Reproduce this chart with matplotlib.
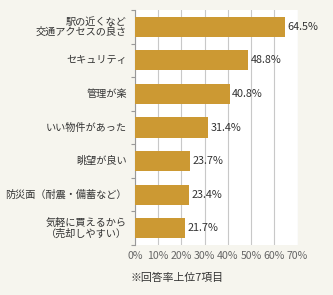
import matplotlib.pyplot as plt
import numpy as np

plt.rcParams['font.family'] = ['Noto Sans CJK JP', 'DejaVu Sans']

# データ
categories = [
    '駅の近くなど\n交通アクセスの良さ',
    'セキュリティ',
    '管理が楽',
    'いい物件があった',
    '眺望が良い',
    '防災面（耐震・備蓄など）',
    '気軽に買えるから\n（売却しやすい）',
]
values = [64.5, 48.8, 40.8, 31.4, 23.7, 23.4, 21.7]
x_ticks = [0, 10, 20, 30, 40, 50, 60, 70]
note = '※回答率上位7項目'

bg = '#f6f5ee'
bar_color = '#cc9933'
text_color = '#333333'
grid_color = '#c8c8c8'

fig = plt.figure(figsize=(3.33, 2.95), dpi=100, facecolor=bg)
# 軸の位置（ピクセルから換算）
ax = fig.add_axes([135 / 333, 1 - 245 / 295, (297.5 - 135) / 333, (245 - 10) / 295])
ax.set_facecolor('white')

y = np.arange(len(categories))
ax.barh(y, values, height=0.6, color=bar_color, zorder=3)

for yi, v in zip(y, values):
    ax.text(v + 1.1, yi, f'{v}%', va='center', ha='left', fontsize=7.8,
            color=text_color, zorder=4)

ax.set_xlim(0, 70)
ax.set_ylim(len(categories) - 0.5, -0.5)
ax.set_xticks(x_ticks)
ax.set_xticklabels([f'{t}%' for t in x_ticks], fontsize=7.6, color='#666666')
ax.tick_params(axis='x', length=0, pad=4)

# カテゴリ境界の小さな目盛り
ax.set_yticks(np.arange(len(categories) + 1) - 0.5)
ax.set_yticklabels([])
ax.tick_params(axis='y', length=3, color='#999999', direction='out')
for yi, label in zip(y, categories):
    ax.text(-0.05, yi, label, transform=ax.get_yaxis_transform(), ha='right',
            va='center', fontsize=7.3, color=text_color, linespacing=1.05,
            multialignment='right')

ax.grid(axis='x', color=grid_color, linewidth=0.8, zorder=0)
for side in ['top', 'right', 'bottom']:
    ax.spines[side].set_visible(False)
ax.spines['left'].set_color('#999999')
ax.spines['left'].set_linewidth(0.8)

fig.text(177 / 333, 1 - 278 / 295, note, ha='center', va='center',
         fontsize=7.8, color=text_color)

fig.savefig('out.png', dpi=100, facecolor=bg)
